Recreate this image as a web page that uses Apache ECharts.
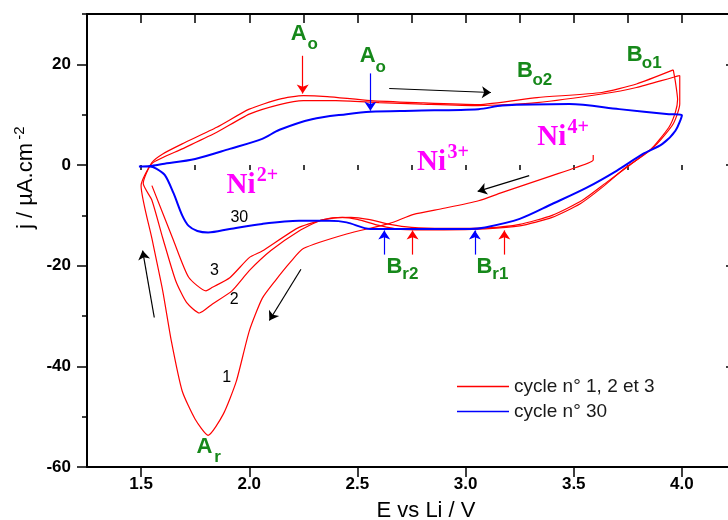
<!DOCTYPE html>
<html>
<head>
<meta charset="utf-8">
<script src="https://cdn.jsdelivr.net/npm/echarts@6/dist/echarts.min.js"></script>
<style>html,body{margin:0;padding:0;background:#fff}#c{width:728px;height:520px}</style>
</head>
<body>
<div id="c"></div>
<script>
// ---------- data ----------
const xTickValues = [1.5, 2.0, 2.5, 3.0, 3.5, 4.0];
const yTickValues = [-60, -40, -20, 0, 20];
const seriesNames = ['cycle n° 1, 2 et 3', 'cycle n° 30'];

// cycle 1: from OCV (3.6 V) down to 1.5 V, then up to 4.0 V
const cycle1 = [[3.59,2.0],[3.59,1.0],[3.51,-0.5],[3.40,-2.1],[3.29,-3.7],[3.16,-5.6],[3.06,-7.1],[2.90,-8.6],[2.76,-9.8],[2.65,-11.6],[2.45,-13.7],[2.25,-16.6],[2.19,-19.3],[2.12,-23.0],[2.06,-26.5],[2.00,-33.0],[1.94,-43.0],[1.88,-49.5],[1.81,-53.7],[1.75,-50.5],[1.69,-44.9],[1.64,-35.0],[1.60,-25.0],[1.55,-14.6],[1.50,-4.1],[1.55,0.5],[1.60,2.2],[1.69,4.2],[1.85,7.5],[2.00,11.1],[2.14,13.1],[2.25,13.8],[2.36,13.6],[2.56,12.8],[2.77,12.4],[3.06,12.0],[3.33,13.4],[3.63,14.4],[3.79,16.1],[3.96,18.9]];
// cycle 2: from 4.0 V down to 1.5 V, then up to 4.0 V
const cycle2 = [[3.96,18.9],[3.97,16.5],[3.98,13.0],[3.97,10.5],[3.94,7.5],[3.85,2.8],[3.74,-0.5],[3.63,-4.5],[3.53,-7.7],[3.40,-10.4],[3.25,-12.1],[3.09,-12.7],[2.90,-12.9],[2.70,-12.8],[2.60,-12.0],[2.50,-10.8],[2.43,-10.4],[2.33,-11.0],[2.23,-13.1],[2.10,-17.0],[2.00,-21.0],[1.92,-25.0],[1.83,-27.6],[1.77,-29.4],[1.71,-27.3],[1.66,-23.0],[1.60,-14.5],[1.55,-7.0],[1.51,-3.7],[1.55,0.3],[1.69,3.2],[1.85,6.5],[2.00,10.1],[2.14,12.0],[2.25,12.8],[2.40,12.8],[2.60,12.4],[2.80,12.1],[3.06,11.8],[3.33,12.4],[3.63,14.1],[3.79,15.4],[3.99,17.8]];
// cycle 3: from 4.0 V down to 1.5 V
const cycle3 = [[3.99,17.8],[3.99,15.4],[3.99,12.1],[3.96,8.2],[3.88,4.0],[3.76,0.0],[3.65,-3.5],[3.54,-7.0],[3.40,-10.0],[3.25,-11.8],[3.10,-12.5],[2.90,-12.6],[2.75,-12.4],[2.65,-11.8],[2.55,-10.8],[2.47,-10.4],[2.37,-10.6],[2.23,-12.4],[2.06,-17.1],[2.00,-18.4],[1.91,-22.4],[1.83,-24.3],[1.80,-25.0],[1.72,-22.3],[1.65,-15.0],[1.55,-4.1]];
// cycle 30: full loop
const cycle30 = [[1.49,-0.3],[1.54,-0.2],[1.60,0.2],[1.75,1.2],[1.91,3.2],[2.06,5.2],[2.14,7.0],[2.29,9.1],[2.45,10.1],[2.56,10.6],[2.76,10.8],[3.06,11.1],[3.17,11.8],[3.48,12.1],[3.71,11.1],[3.94,10.1],[4.00,9.9],[3.97,6.8],[3.91,4.2],[3.82,2.2],[3.70,-1.1],[3.56,-4.5],[3.40,-7.75],[3.25,-10.7],[3.09,-12.4],[3.02,-12.7],[2.69,-12.7],[2.56,-12.7],[2.45,-11.4],[2.37,-11.1],[2.23,-11.1],[2.06,-11.7],[1.91,-12.7],[1.81,-13.4],[1.76,-13.1],[1.72,-12.1],[1.69,-10.0],[1.65,-5.6],[1.61,-2.0],[1.57,-0.7],[1.54,-0.3],[1.49,-0.3]];

// ---------- annotations (data coordinates) ----------
const peakLabels = [ // main, subscript, x, y, sub dx, sub dy (px)
  ['A','o',2.228,26.0,14,10],
  ['A','o',2.548,21.7,13,12],
  ['B','o2',3.274,18.65,17.5,9],
  ['B','o1',3.782,21.9,17,8.5],
  ['A','r',1.793,-56.0,13,10.5],
  ['B','r2',2.671,-20.2,16,7.5],
  ['B','r1',3.087,-20.2,16,7.5]
];
const ionLabels = [ // main, superscript, x, y
  ['Ni','2+',1.962,-4.1],
  ['Ni','3+',2.843,0.5],
  ['Ni','4+',3.398,5.4]
];
const cycleLabels = [['30',1.954,-10.4],['3',1.839,-21.0],['2',1.931,-26.8],['1',1.896,-42.2]];
const redArrows = [[[2.247,21.7],[2.247,14.2]],[[2.755,-17.8],[2.755,-13.0]],[[3.179,-17.8],[3.179,-13.0]]];
const blueArrows = [[[2.56,18.2],[2.56,10.8]],[[2.624,-17.8],[2.624,-13.0]],[[3.043,-17.8],[3.043,-13.0]]];
const blackArrows = [[[2.647,15.2],[3.117,14.4]],[[3.294,-2.1],[3.056,-5.25]],[[2.239,-20.7],[2.093,-30.9]],[[1.561,-30.3],[1.507,-17.0]]];

// ---------- chart ----------
const RED = '#ff0000', BLUE = '#0000ff', GREEN = '#16881a', MAG = '#ff00ff';
const SANS = 'Liberation Sans, Arial, sans-serif';
const chart = echarts.init(document.getElementById('c'));

function arrowItems(list, color) {
  return list.map(a => [
    {coord: a[0], lineStyle: {color: color, width: 1.2, type: 'solid'}},
    {coord: a[1], lineStyle: {color: color, width: 1.2, type: 'solid'}}
  ]);
}
const xRange = {min: 1.25, max: 4.25};
const yRange = {min: -60, max: 30};
const axisLineStyle = {show: true, onZero: false, lineStyle: {color: '#000', width: 2}};

chart.setOption({
  animation: false,
  backgroundColor: '#fff',
  grid: {left: 87, top: 14, width: 649, height: 453, containLabel: false, outerBoundsMode: 'none'},
  legend: {
    data: seriesNames, orient: 'vertical', left: 452, top: 372,
    icon: 'rect', itemWidth: 52, itemHeight: 1.6, itemGap: 6,
    textStyle: {fontSize: 19, lineHeight: 19, color: '#1a1a1a', fontFamily: SANS}
  },
  xAxis: [
    Object.assign({type: 'value', position: 'bottom', axisLine: axisLineStyle,
      axisTick: {customValues: xTickValues, length: 10, lineStyle: {color: '#000', width: 1.5}},
      axisLabel: {customValues: xTickValues, formatter: v => v.toFixed(1), fontSize: 17, fontWeight: 'bold', color: '#000', fontFamily: SANS, margin: 9},
      splitLine: {show: false}}, xRange),
    Object.assign({type: 'value', position: 'bottom', interval: 0.25, axisLine: {show: false},
      axisTick: {length: 5, lineStyle: {color: '#000', width: 1.5}}, axisLabel: {show: false}, splitLine: {show: false}}, xRange),
    Object.assign({type: 'value', position: 'top', interval: 0.25, axisLine: axisLineStyle,
      axisTick: {inside: true, length: 9, lineStyle: {color: '#000', width: 1.5}}, axisLabel: {show: false}, splitLine: {show: false}}, xRange)
  ],
  yAxis: [
    Object.assign({type: 'value', position: 'left', axisLine: axisLineStyle,
      axisTick: {customValues: yTickValues, length: 10, lineStyle: {color: '#000', width: 1.5}},
      axisLabel: {customValues: yTickValues, fontSize: 17, fontWeight: 'bold', color: '#000', fontFamily: SANS, margin: 16},
      splitLine: {show: false}}, yRange),
    Object.assign({type: 'value', position: 'left', interval: 10, axisLine: {show: false},
      axisTick: {length: 5, lineStyle: {color: '#000', width: 1.5}}, axisLabel: {show: false}, splitLine: {show: false}}, yRange),
    Object.assign({type: 'value', position: 'right', axisLine: axisLineStyle,
      axisTick: {customValues: yTickValues, inside: true, length: 10, lineStyle: {color: '#000', width: 1.5}},
      axisLabel: {show: false}, splitLine: {show: false}}, yRange)
  ],
  series: [
    {name: seriesNames[0], type: 'line', data: cycle1, symbol: 'none', smooth: 0.2, lineStyle: {color: RED, width: 1.2}, itemStyle: {color: RED}},
    {name: seriesNames[0], type: 'line', data: cycle2, symbol: 'none', smooth: 0.2, lineStyle: {color: RED, width: 1.2}, itemStyle: {color: RED}},
    {name: seriesNames[0], type: 'line', data: cycle3, symbol: 'none', smooth: 0.2, lineStyle: {color: RED, width: 1.2}, itemStyle: {color: RED}},
    {name: seriesNames[1], type: 'line', data: cycle30, symbol: 'none', smooth: 0.3, lineStyle: {color: BLUE, width: 2}, itemStyle: {color: BLUE},
      markLine: {silent: true, symbol: ['none', 'arrow'], symbolSize: 9, label: {show: false}, emphasis: {disabled: true},
        data: arrowItems(redArrows, RED).concat(arrowItems(blueArrows, BLUE), arrowItems(blackArrows, '#000'))}}
  ]
});

// ---------- text annotations ----------
function px(x, y) { return chart.convertToPixel({xAxisIndex: 0, yAxisIndex: 0}, [x, y]); }
const g = [];
peakLabels.forEach(p => {
  const c = px(p[2], p[3]);
  g.push({type: 'text', x: c[0], y: c[1], silent: true, style: {text: p[0], font: 'bold 22px ' + SANS, fill: GREEN, align: 'center', verticalAlign: 'middle'}});
  g.push({type: 'text', x: c[0] + p[4], y: c[1] + p[5], silent: true, style: {text: p[1], font: 'bold 17px ' + SANS, fill: GREEN, align: 'center', verticalAlign: 'middle'}});
});
ionLabels.forEach(p => {
  const c = px(p[2], p[3]);
  g.push({type: 'text', x: c[0], y: c[1], silent: true, style: {text: p[0], font: 'bold 29px "Liberation Serif", "Times New Roman", serif', fill: MAG, align: 'center', verticalAlign: 'middle'}});
  g.push({type: 'text', x: c[0] + 26.5, y: c[1] - 10, silent: true, style: {text: p[1], font: 'bold 20px "Liberation Serif", "Times New Roman", serif', fill: MAG, align: 'center', verticalAlign: 'middle'}});
});
cycleLabels.forEach(p => {
  const c = px(p[1], p[2]);
  g.push({type: 'text', x: c[0], y: c[1], silent: true, style: {text: p[0], font: '16px ' + SANS, fill: '#000', align: 'center', verticalAlign: 'middle'}});
});
// axis titles
g.push({type: 'text', x: 426, y: 511, silent: true, style: {text: 'E vs Li / V', font: '22px ' + SANS, fill: '#000', align: 'center', verticalAlign: 'middle'}});
g.push({type: 'group', x: 26, y: 186, rotation: Math.PI / 2, silent: true, children: [
  {type: 'text', x: 0, y: 0, style: {text: 'j / µA.cm', font: '22px ' + SANS, fill: '#000', align: 'center', verticalAlign: 'middle'}},
  {type: 'text', x: 53, y: -6, style: {text: '-2', font: '15px ' + SANS, fill: '#000', align: 'center', verticalAlign: 'middle'}}
]});
chart.setOption({graphic: g});
</script>
</body>
</html>
